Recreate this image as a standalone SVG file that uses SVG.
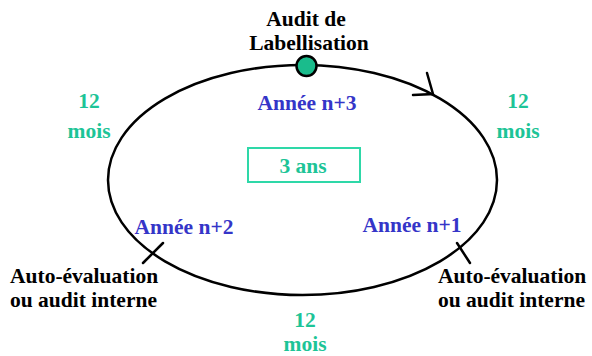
<svg xmlns="http://www.w3.org/2000/svg" width="592" height="356" viewBox="0 0 592 356">
<style>
.k{fill:#000}
.g{fill:#1DC497}
.b{fill:#3535C8}
.line{fill:none;stroke:#000;stroke-width:2.5;stroke-linecap:round}
.mid{text-anchor:middle}
</style>
<rect width="592" height="356" fill="#fff"/>
<g id="connectors">
<ellipse class="line" cx="302.5" cy="180" rx="194.5" ry="115"/>
<path class="line" d="M427 73 L433 94 L413 95"/>
<path class="line" d="M143 263 L163 243"/>
<path class="line" d="M457 243 L470 263"/>
</g>
<g font-family="Liberation Serif, serif" font-weight="bold" font-size="21.5">
<g id="audit-labellisation">
<circle cx="306.5" cy="66" r="10" fill="#1ABC8C" stroke="#000" stroke-width="2.5"/>
<text class="k mid" x="306" y="26">Audit de</text>
<text class="k mid" x="309" y="50">Labellisation</text>
</g>
<g id="annee3"><text class="b mid" x="307" y="110">Année n+3</text></g>
<g id="annee2"><text class="b mid" x="184" y="234">Année n+2</text></g>
<g id="annee1"><text class="b mid" x="412" y="232">Année n+1</text></g>
<g id="duree">
<rect x="248" y="148" width="112" height="34" fill="none" stroke="#2ED8A8" stroke-width="2"/>
<text class="g mid" x="303" y="173">3 ans</text>
</g>
<g id="mois-gauche"><text class="g mid" x="89" y="108">12</text><text class="g mid" x="89" y="138">mois</text></g>
<g id="mois-droite"><text class="g mid" x="518" y="108">12</text><text class="g mid" x="518" y="138">mois</text></g>
<g id="mois-bas"><text class="g mid" x="305" y="327">12</text><text class="g mid" x="305" y="351">mois</text></g>
<g id="auto-gauche"><text class="k" x="10" y="283">Auto-évaluation</text><text class="k" x="10" y="307">ou audit interne</text></g>
<g id="auto-droite"><text class="k" x="438" y="283">Auto-évaluation</text><text class="k" x="438" y="307">ou audit interne</text></g>
</g>
</svg>
